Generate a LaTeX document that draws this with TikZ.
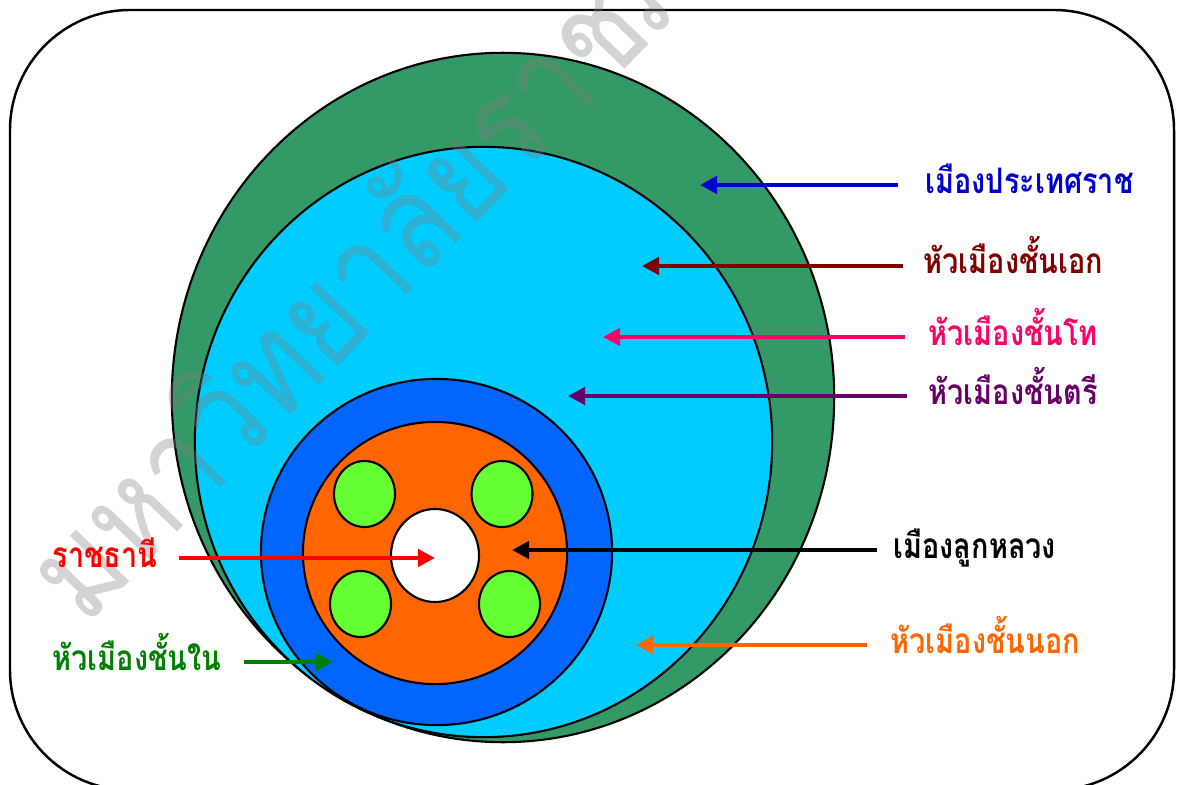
\documentclass[tikz,border=0pt]{standalone}
\usepackage{fontspec}
\usetikzlibrary{shapes.geometric,arrows.meta}
\newfontfamily\thaifont[Script=Thai,FakeStretch=0.82]{Loma}
\newfontfamily\markfont[Script=Thai,FakeStretch=0.85]{Loma}
\definecolor{ringgreen}{RGB}{51,153,102}
\definecolor{ringcyan}{RGB}{0,204,255}
\definecolor{ringblue}{RGB}{0,102,255}
\definecolor{ringorange}{RGB}{255,102,0}
\definecolor{dotgreen}{RGB}{102,255,51}
\definecolor{txtblue}{RGB}{0,0,204}
\definecolor{txtmaroon}{RGB}{128,0,0}
\definecolor{txtpink}{RGB}{255,0,102}
\definecolor{txtpurple}{RGB}{102,0,102}
\definecolor{txtorange}{RGB}{255,102,0}
\definecolor{txtgreen}{RGB}{0,128,0}
\tikzset{
  zone/.style={ellipse,draw=black,line width=0.6pt,inner sep=0pt},
  lbl/.style={font=\thaifont\bfseries\fontsize{10}{12}\selectfont,anchor=base west,inner sep=0pt},
  pointer/.style={line width=1.3pt,-{Triangle[length=1.7mm,width=1.7mm]}},
  watermark/.style={font=\markfont\fontsize{38}{42}\selectfont,text=gray,opacity=0.35,
    rotate=46,anchor=base west,inner sep=0pt},
}

\begin{document}
\begin{tikzpicture}[x=0.01cm,y=-0.01cm]
  \useasboundingbox (0,0) rectangle (1179,785);
  \clip (0,0) rectangle (1179,785);
  \draw[line width=0.7pt,rounded corners=1.2cm] (10,10) rectangle (1174,790);
  % rings, outermost first
  \node[zone,fill=ringgreen,minimum width=6.62cm,minimum height=6.89cm] (pratesarat) at (503,397.5) {};
  \node[zone,fill=ringcyan,minimum width=5.77cm,minimum height=5.9cm] (nok) at (483.5,442) {};
  \node[zone,fill=ringblue,minimum width=3.51cm,minimum height=3.46cm] (nai) at (436.5,552) {};
  \node[zone,fill=ringorange,minimum width=2.64cm,minimum height=2.62cm] (lukluang) at (435,553) {};
  \node[zone,fill=white,minimum width=0.88cm,minimum height=0.93cm] (capital) at (435,555.5) {};
  \foreach \x/\y/\n in {364.5/494/tl, 502/494/tr, 360.5/604/bl, 509.5/604/br}
    \node[zone,fill=dotgreen,minimum width=0.61cm,minimum height=0.66cm] (dot\n) at (\x,\y) {};
  \node[watermark] (wm) at (85,628) {มหาวิทยาลัยราชภัฏ};
  % arrow tips
  \coordinate (tipA) at (700,185);
  \coordinate (tipB) at (642,266);
  \coordinate (tipC) at (603,337);
  \coordinate (tipD) at (568,396);
  \coordinate (tipE) at (512,550);
  \coordinate (tipF) at (636,645);
  \coordinate (tipG) at (435,558);
  \coordinate (tipH) at (333,662);
  % labels
  \node[lbl,text=txtblue] (lblA) at (925,193) {เมืองประเทศราช};
  \node[lbl,text=txtmaroon] (lblB) at (923,274) {หัวเมืองชั้นเอก};
  \node[lbl,text=txtpink] (lblC) at (928,345) {หัวเมืองชั้นโท};
  \node[lbl,text=txtpurple] (lblD) at (928,404) {หัวเมืองชั้นตรี};
  \node[lbl,text=black] (lblE) at (893,558) {เมืองลูกหลวง};
  \node[lbl,text=txtorange] (lblF) at (890,653) {หัวเมืองชั้นนอก};
  \node[lbl,text=red] (lblG) at (52,567) {ราชธานี};
  \node[lbl,text=txtgreen] (lblH) at (52,670) {หัวเมืองชั้นใน};
  % pointers
  \draw[pointer,txtblue,shorten <=0.27cm] (lblA.west |- tipA) -- (tipA);
  \draw[pointer,txtmaroon,shorten <=0.2cm] (lblB.west |- tipB) -- (tipB);
  \draw[pointer,txtpink,shorten <=0.23cm] (lblC.west |- tipC) -- (tipC);
  \draw[pointer,txtpurple,shorten <=0.21cm] (lblD.west |- tipD) -- (tipD);
  \draw[pointer,black,shorten <=0.16cm] (lblE.west |- tipE) -- (tipE);
  \draw[pointer,txtorange,shorten <=0.23cm] (lblF.west |- tipF) -- (tipF);
  \draw[pointer,red,shorten <=0.21cm] (lblG.east |- tipG) -- (tipG);
  \draw[pointer,txtgreen,shorten <=0.22cm] (lblH.east |- tipH) -- (tipH);
\end{tikzpicture}
\end{document}
